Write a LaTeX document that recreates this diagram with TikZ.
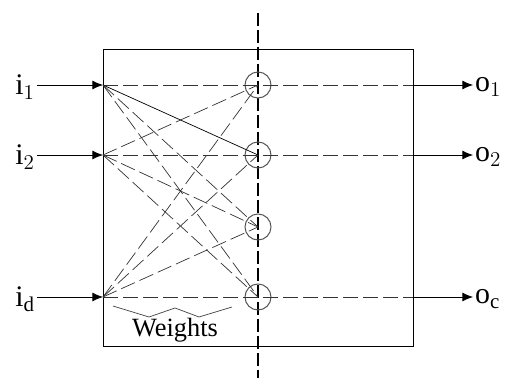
\documentclass[tikz,border=0pt]{standalone}
\usepackage{fontspec}
\setmainfont{Liberation Serif}
\usetikzlibrary{arrows.meta,positioning}

\begin{document}
\begin{tikzpicture}[
    x=0.02cm, y=-0.02cm,
    unitnode/.style={circle, draw=black!65, semithick, minimum size=0.52cm, inner sep=0pt},
    wline/.style={black!80, dash pattern=on 0.3cm off 0.1cm},
    axisline/.style={black, semithick, dash pattern=on 0.27cm off 0.07cm},
    inarrow/.style={-{Latex[length=6pt,width=5pt]}, black},
    lbl/.style={font=\fontsize{17}{18}\selectfont, inner sep=1pt},
    >=Latex
  ]
    \useasboundingbox (0,0) rectangle (507,378);

    % --- Box ---
    \draw[black] (103,49) rectangle (413,346);

    % --- Vertical dashed axis ---
    \coordinate (top) at (258,13);
    \coordinate (bot) at (258,378);
    \draw[axisline] (top) -- (bot);

    % --- Output units ---
    \node[unitnode] (c1) at (258, 85) {};
    \node[unitnode] (c2) at (258,155) {};
    \node[unitnode] (c3) at (258,227) {};
    \node[unitnode] (c4) at (258,297) {};

    % --- Inputs ---
    \coordinate (in1) at (103, 85);
    \coordinate (in2) at (103,155);
    \coordinate (ind) at (103,297);
    \node[lbl, anchor=east] (i1) at (37, 87) {i$_1$};
    \node[lbl, anchor=east] (i2) at (37,157) {i$_2$};
    \node[lbl, anchor=east] (id) at (37,299) {i$_\mathrm{d}$};
    \draw[inarrow] (i1.east |- in1) -- (in1);
    \draw[inarrow] (i2.east |- in2) -- (in2);
    \draw[inarrow] (id.east |- ind) -- (ind);

    % --- Outputs ---
    \coordinate (e1) at (413, 85);
    \coordinate (e2) at (413,155);
    \coordinate (e4) at (413,297);
    \node[lbl, anchor=west] (o1) at (473, 87) {o$_1$};
    \node[lbl, anchor=west] (o2) at (473,157) {o$_2$};
    \node[lbl, anchor=west] (oc) at (473,299) {o$_\mathrm{c}$};
    \draw[wline] (in1) -- (e1);
    \draw[wline] (in2) -- (e2);
    \draw[wline] (ind) -- (e4);
    \draw[inarrow] (e1) -- (o1.west |- e1);
    \draw[inarrow] (e2) -- (o2.west |- e2);
    \draw[inarrow] (e4) -- (oc.west |- e4);

    % --- Weights ---
    \draw[black] (in1) -- (c2.center);
    \draw[wline] (in1) -- (c3.center);
    \draw[wline] (in1) -- (c4.center);
    \draw[wline] (in2) -- (c1.center);
    \draw[wline] (in2) -- (c3.center);
    \draw[wline] (in2) -- (c4.center);
    \draw[wline] (ind) -- (c1.center);
    \draw[wline] (ind) -- (c2.center);
    \draw[wline] (ind) -- (c3.center);

    % --- Weights brace ---
    \draw[black!75] (113,306) -- (149,317) -- (175,308) -- (199,317) -- (232,307);
    \node[lbl, font=\fontsize{15}{16}\selectfont] (wlbl) at (175,330) {Weights};
\end{tikzpicture}
\end{document}
